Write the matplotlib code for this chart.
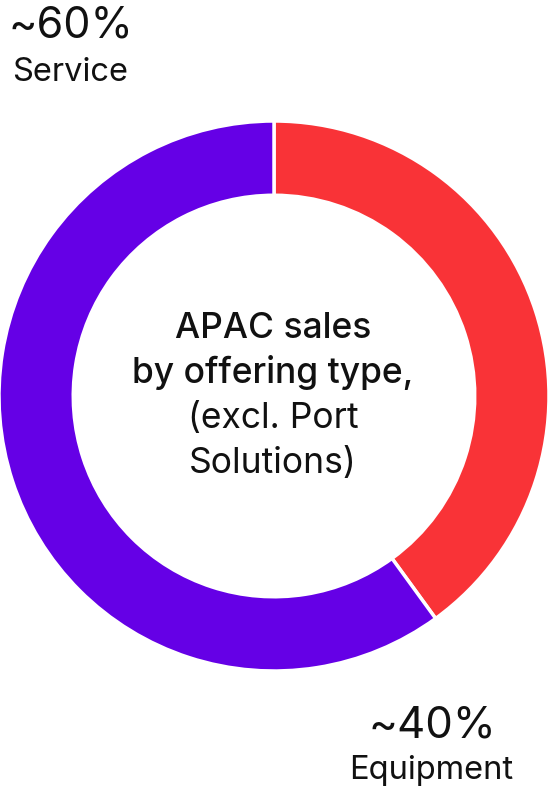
import matplotlib
matplotlib.use("Agg")
import matplotlib.pyplot as plt

labels = ["Equipment", "Service"]
shares = [40, 60]
share_text = ["~40%", "~60%"]
colors = ["#F93337", "#6500E6"]

center_lines = ["APAC sales", "by offering type,", "(excl. Port", "Solutions)"]
center_weights = ["medium", "medium", "normal", "normal"]

plt.rcParams["font.family"] = ["Inter", "DejaVu Sans"]

fig = plt.figure(figsize=(5.53, 7.87), dpi=100)
W, H = 553, 787
cx, cy, r = 274, 396, 275
ax = fig.add_axes([(cx - r) / W, (H - cy - r) / H, 2 * r / W, 2 * r / H])
ax.pie(shares, colors=colors, startangle=90, counterclock=False, radius=1.0,
       wedgeprops=dict(width=0.27, edgecolor="white", linewidth=2.5))
ax.set_xlim(-1, 1)
ax.set_ylim(-1, 1)
ax.set_aspect("equal")
ax.axis("off")

# центр
for i, (line, w) in enumerate(zip(center_lines, center_weights)):
    fig.text(273 / W, 1 - (338 + 45 * i) / H, line, ha="center", va="baseline",
             fontsize=25.5, fontweight=w, color="#111111")

# подписи долей
fig.text(8 / W, 1 - 38 / H, share_text[1], ha="left", va="baseline", fontsize=31, color="#111111")
fig.text(12 / W, 1 - 81 / H, labels[1], ha="left", va="baseline", fontsize=23.5, color="#111111")
fig.text(432 / W, 1 - 738 / H, share_text[0], ha="center", va="baseline", fontsize=31.5, color="#111111")
fig.text(431 / W, 1 - 779 / H, labels[0], ha="center", va="baseline", fontsize=23.5, color="#111111")

fig.savefig("out.png", dpi=100)
